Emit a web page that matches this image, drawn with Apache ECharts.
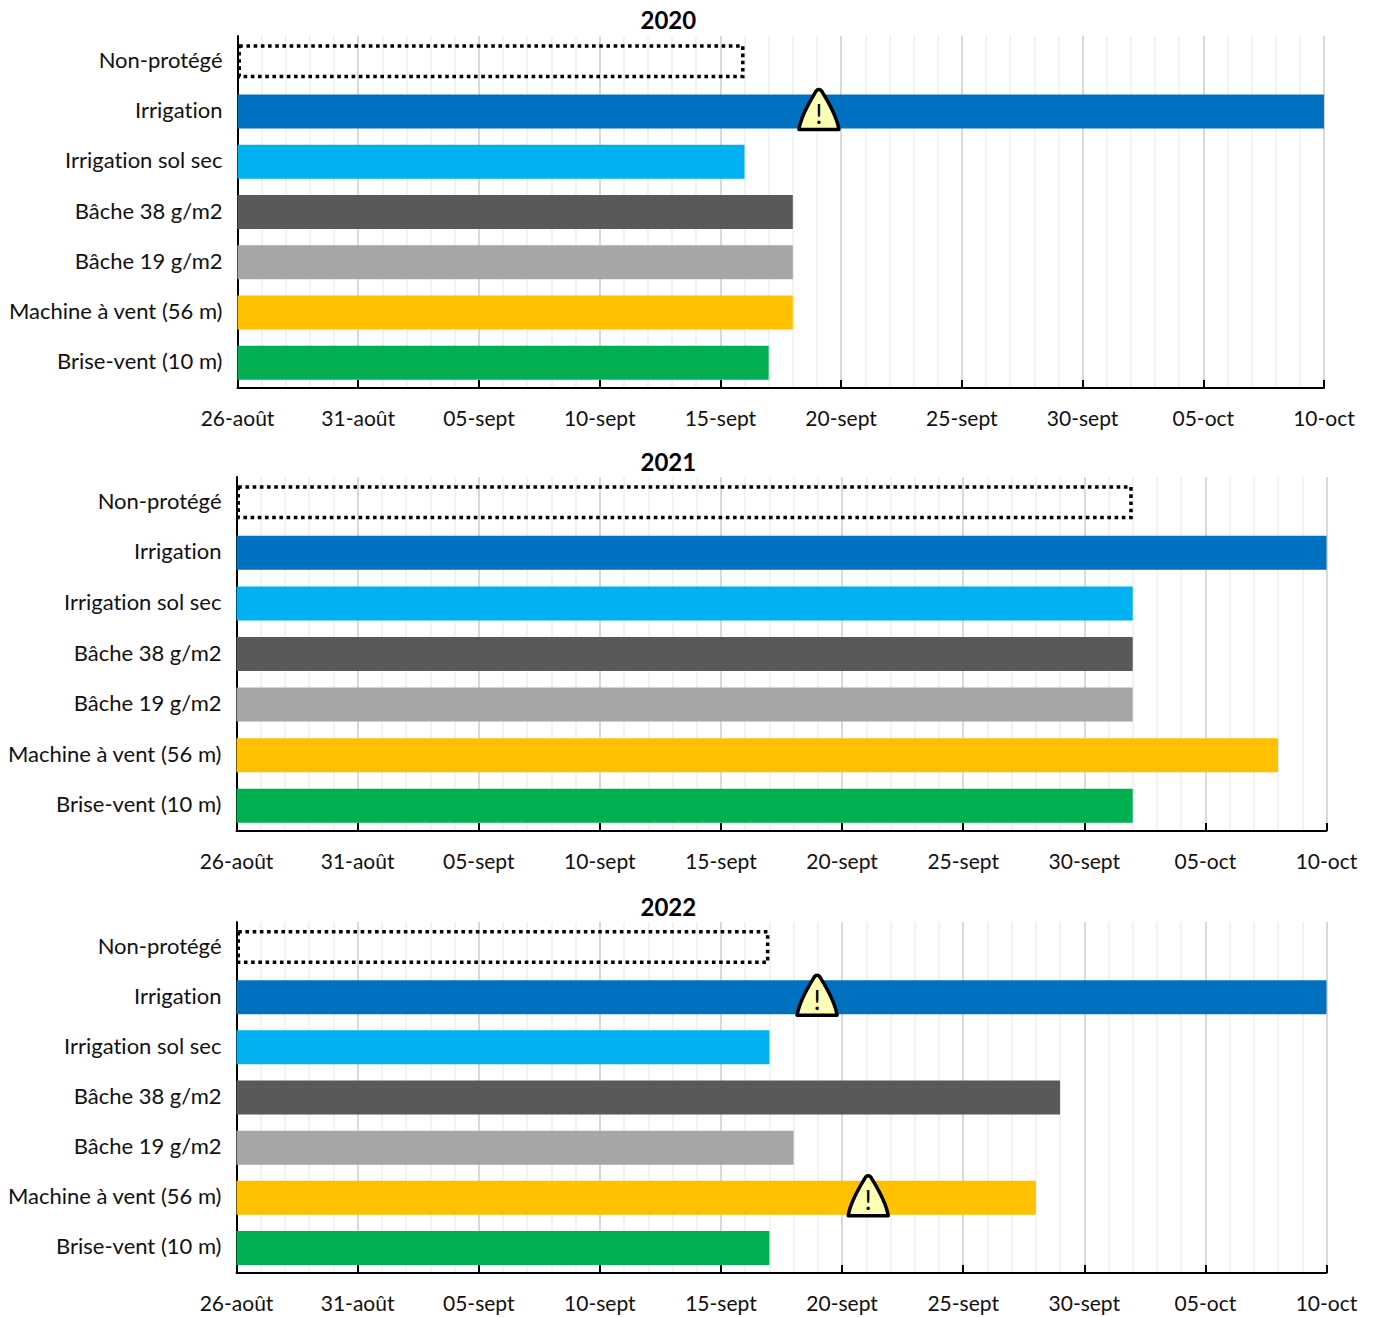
<!DOCTYPE html>
<html><head><meta charset="utf-8">
<style>html,body{margin:0;padding:0;background:#fff;overflow:hidden}#c{width:1374px;height:1317px}
text{font-variant-ligatures:none;font-feature-settings:"liga" 0}</style>
<script src="https://cdn.jsdelivr.net/npm/echarts@6/dist/echarts.min.js"></script>
</head><body><div id="c"></div>
<script>
const categories = ['Non-protégé','Irrigation','Irrigation sol sec','Bâche 38 g/m2','Bâche 19 g/m2','Machine à vent (56 m)','Brise-vent (10 m)'];
const tickLabels = ['26-août','31-août','05-sept','10-sept','15-sept','20-sept','25-sept','30-sept','05-oct','10-oct'];
const years = ['2020','2021','2022'];
// end of each bar, in days after 26 August
const days2020 = [21,45,21,23,23,23,22];
const days2021 = [37,45,37,37,37,43,37];
const days2022 = [22,45,22,34,23,33,22];
const warnings2020 = [[24.08,'Irrigation']];
const warnings2021 = [];
const warnings2022 = [[23.97,'Irrigation'],[26.08,'Machine à vent (56 m)']];
const barColors = ['transparent','#0070C0','#00B0F0','#595959','#A6A6A6','#FFC000','#00B050'];

const FONT = 'Lato, "Open Sans", sans-serif';
const layout = [
  {left:237.5,width:1086.5,top:36,height:352,titleTop:2,barW:34},
  {left:236.5,width:1090,top:477,height:354,titleTop:444,barW:34},
  {left:236.5,width:1090,top:922,height:351,titleTop:889,barW:34}
];
const allDays = [days2020,days2021,days2022];
const allWarn = [warnings2020,warnings2021,warnings2022];
const triangle = 'path://M20,1 C21.5,1 22.5,2 23.5,4 C29,13 37,26 39,39 L1,39 C3,26 11,13 16.5,4 C17.5,2 18.5,1 20,1 Z';

const option = {
  animation:false,
  backgroundColor:'#fff',
  title: years.map((y,i)=>({text:y,left:635.5,top:layout[i].titleTop,
    textStyle:{fontFamily:FONT,fontWeight:'bold',fontSize:24,color:'#000'}})),
  grid: layout.map(l=>({left:l.left,top:l.top,width:l.width,height:l.height,containLabel:false})),
  xAxis: layout.map((l,i)=>({
    type:'value',gridIndex:i,min:0,max:45,interval:5,
    axisLine:{show:true,onZero:false,lineStyle:{color:'#000',width:2}},
    axisTick:{show:true,inside:true,length:8,lineStyle:{color:'#000',width:2}},
    minorTick:{show:false,splitNumber:5},
    splitLine:{show:true,lineStyle:{color:'#D9D9D9',width:2}},
    minorSplitLine:{show:true,lineStyle:{color:'#F2F2F2',width:2}},
    axisLabel:{show:true,margin:19,fontFamily:FONT,fontSize:21,color:'#111',
      showMinLabel:true,showMaxLabel:true,hideOverlap:false,
      formatter:v=>tickLabels[Math.round(v/5)]}
  })),
  yAxis: layout.map((l,i)=>({
    type:'category',gridIndex:i,inverse:true,data:categories,
    axisLine:{show:true,onZero:false,lineStyle:{color:'#000',width:2}},
    axisTick:{show:false},splitLine:{show:false},
    axisLabel:{margin:15,fontFamily:FONT,fontSize:22,color:'#111',interval:0,verticalAlign:'bottom',lineHeight:4}
  })),
  series: years.map((y,i)=>({
    type:'bar',name:y,xAxisIndex:i,yAxisIndex:i,barWidth:layout[i].barW,z:3,
    data: allDays[i].map((d,k)=> k===0
      ? {value:d,itemStyle:{color:'transparent',borderColor:'#000',borderWidth:3.5,borderType:[3.6,3.6]}}
      : {value:d,itemStyle:{color:barColors[k]}}),
    markPoint:{
      silent:true,
      symbol:triangle,symbolSize:[40,40],symbolOffset:[0,-2],
      itemStyle:{color:'#FFFFB3',borderColor:'#000',borderWidth:3.5,borderJoin:'round'},
      label:{show:true,formatter:'!',position:'inside',offset:[0,4],fontFamily:FONT,fontSize:27,color:'#000'},
      data: allWarn[i].map(w=>({coord:w}))
    }
  }))
};
const chart = echarts.init(document.getElementById('c'),null,{renderer:'svg',width:1374,height:1317});
chart.setOption(option);
</script></body></html>
